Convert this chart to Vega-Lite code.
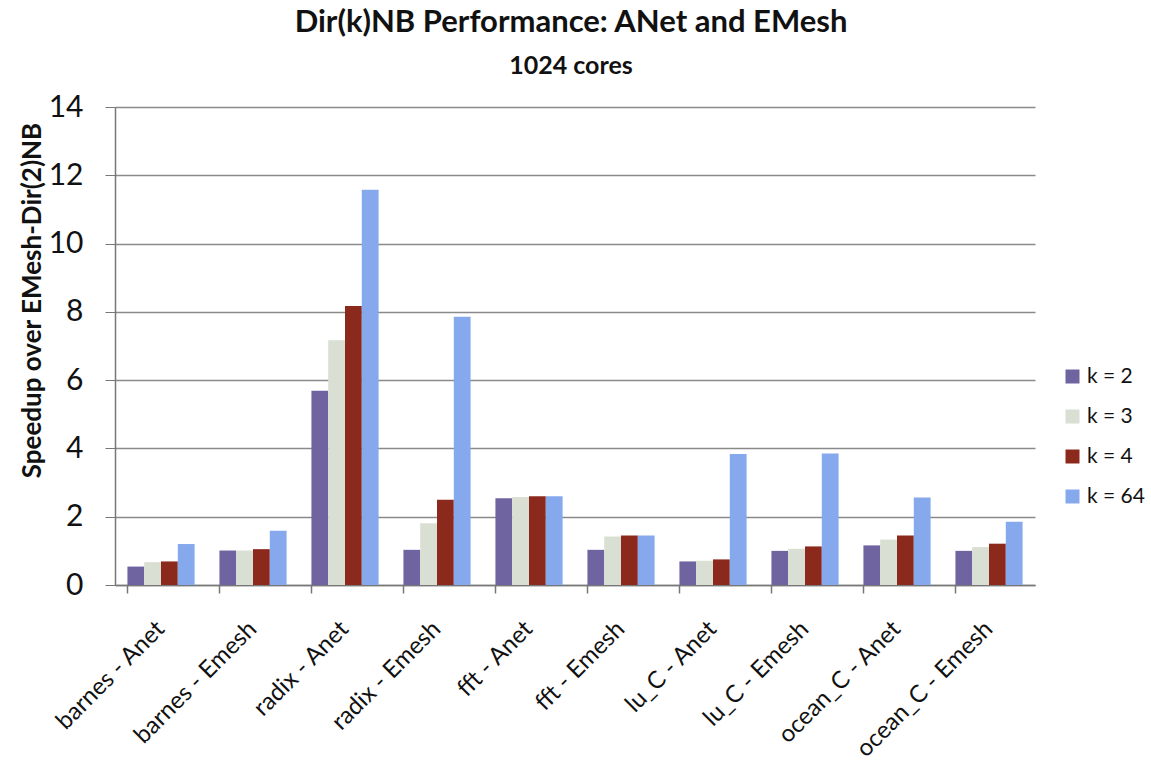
{
  "$schema": "https://vega.github.io/schema/vega-lite/v6.json",
  "width": 920,
  "height": 478,
  "autosize": "none",
  "padding": {"left": 115, "top": 107, "right": 116, "bottom": 180},
  "background": "white",
  "title": {
    "text": "Dir(k)NB Performance: ANet and EMesh",
    "subtitle": "1024 cores",
    "font": "Lato",
    "fontSize": 31,
    "fontWeight": "bold",
    "subtitleFont": "Lato",
    "subtitleFontSize": 25,
    "subtitleFontWeight": "bold",
    "subtitleColor": "#111",
    "color": "#111",
    "anchor": "middle",
    "dx": -4,
    "offset": 12,
    "subtitlePadding": 15
  },
  "data": {
    "values": [
      {"bench": "barnes - Anet", "k": "k = 2", "v": 0.54},
      {"bench": "barnes - Anet", "k": "k = 3", "v": 0.67},
      {"bench": "barnes - Anet", "k": "k = 4", "v": 0.69},
      {"bench": "barnes - Anet", "k": "k = 64", "v": 1.2},
      {"bench": "barnes - Emesh", "k": "k = 2", "v": 1.01},
      {"bench": "barnes - Emesh", "k": "k = 3", "v": 1.01},
      {"bench": "barnes - Emesh", "k": "k = 4", "v": 1.05},
      {"bench": "barnes - Emesh", "k": "k = 64", "v": 1.59},
      {"bench": "radix - Anet", "k": "k = 2", "v": 5.69},
      {"bench": "radix - Anet", "k": "k = 3", "v": 7.17},
      {"bench": "radix - Anet", "k": "k = 4", "v": 8.17},
      {"bench": "radix - Anet", "k": "k = 64", "v": 11.58},
      {"bench": "radix - Emesh", "k": "k = 2", "v": 1.03},
      {"bench": "radix - Emesh", "k": "k = 3", "v": 1.81},
      {"bench": "radix - Emesh", "k": "k = 4", "v": 2.5},
      {"bench": "radix - Emesh", "k": "k = 64", "v": 7.86},
      {"bench": "fft - Anet", "k": "k = 2", "v": 2.54},
      {"bench": "fft - Anet", "k": "k = 3", "v": 2.58},
      {"bench": "fft - Anet", "k": "k = 4", "v": 2.6},
      {"bench": "fft - Anet", "k": "k = 64", "v": 2.6},
      {"bench": "fft - Emesh", "k": "k = 2", "v": 1.03},
      {"bench": "fft - Emesh", "k": "k = 3", "v": 1.42},
      {"bench": "fft - Emesh", "k": "k = 4", "v": 1.45},
      {"bench": "fft - Emesh", "k": "k = 64", "v": 1.45},
      {"bench": "lu_C - Anet", "k": "k = 2", "v": 0.69},
      {"bench": "lu_C - Anet", "k": "k = 3", "v": 0.71},
      {"bench": "lu_C - Anet", "k": "k = 4", "v": 0.75},
      {"bench": "lu_C - Anet", "k": "k = 64", "v": 3.84},
      {"bench": "lu_C - Emesh", "k": "k = 2", "v": 1.0},
      {"bench": "lu_C - Emesh", "k": "k = 3", "v": 1.06},
      {"bench": "lu_C - Emesh", "k": "k = 4", "v": 1.13},
      {"bench": "lu_C - Emesh", "k": "k = 64", "v": 3.85},
      {"bench": "ocean_C - Anet", "k": "k = 2", "v": 1.16},
      {"bench": "ocean_C - Anet", "k": "k = 3", "v": 1.33},
      {"bench": "ocean_C - Anet", "k": "k = 4", "v": 1.45},
      {"bench": "ocean_C - Anet", "k": "k = 64", "v": 2.56},
      {"bench": "ocean_C - Emesh", "k": "k = 2", "v": 1.0},
      {"bench": "ocean_C - Emesh", "k": "k = 3", "v": 1.11},
      {"bench": "ocean_C - Emesh", "k": "k = 4", "v": 1.21},
      {"bench": "ocean_C - Emesh", "k": "k = 64", "v": 1.85}
    ]
  },
  "mark": {"type": "bar"},
  "encoding": {
    "x": {
      "field": "bench",
      "type": "nominal",
      "sort": null,
      "scale": {"paddingInner": 0.27, "paddingOuter": 0.135},
      "axis": {
        "title": null,
        "labelAngle": -45,
        "labelAlign": "right",
        "labelBaseline": "middle",
        "labelFont": "Lato",
        "labelFontSize": 24,
        "labelColor": "#111",
        "labelPadding": 32,
        "labelLimit": 400,
        "bandPosition": 0,
        "tickSize": 8,
        "tickColor": "#777",
        "domainColor": "#777",
        "domainWidth": 1.5,
        "tickWidth": 1.5,
        "grid": false
      }
    },
    "xOffset": {"field": "k", "type": "nominal", "sort": ["k = 2", "k = 3", "k = 4", "k = 64"]},
    "y": {
      "field": "v",
      "type": "quantitative",
      "scale": {"domain": [0, 14], "nice": false},
      "axis": {
        "title": "Speedup over EMesh-Dir(2)NB",
        "titleFont": "Lato",
        "titleFontSize": 26,
        "titleFontWeight": "bold",
        "titleColor": "#111",
        "titlePadding": 3,
        "titleY": 193,
        "values": [0, 2, 4, 6, 8, 10, 12, 14],
        "labelFont": "Lato",
        "labelFontSize": 30,
        "labelColor": "#111",
        "labelPadding": 22,
        "tickSize": 10,
        "tickColor": "#777",
        "domainColor": "#777",
        "domainWidth": 1.5,
        "gridColor": "#8a8a8a",
        "gridWidth": 1.5
      }
    },
    "color": {
      "field": "k",
      "type": "nominal",
      "sort": ["k = 2", "k = 3", "k = 4", "k = 64"],
      "scale": {
        "domain": ["k = 2", "k = 3", "k = 4", "k = 64"],
        "range": ["#6f64a0", "#d9dfd2", "#8b2a1c", "#86a8ec"]
      },
      "legend": {
        "title": null,
        "orient": "none",
        "legendX": 947,
        "legendY": 259,
        "symbolType": "square",
        "symbolSize": 196,
        "symbolStrokeWidth": 0,
        "labelFont": "Lato",
        "labelFontSize": 21,
        "labelColor": "#111",
        "rowPadding": 18,
        "labelOffset": 4
      }
    }
  },
  "config": {"view": {"stroke": null}}
}
